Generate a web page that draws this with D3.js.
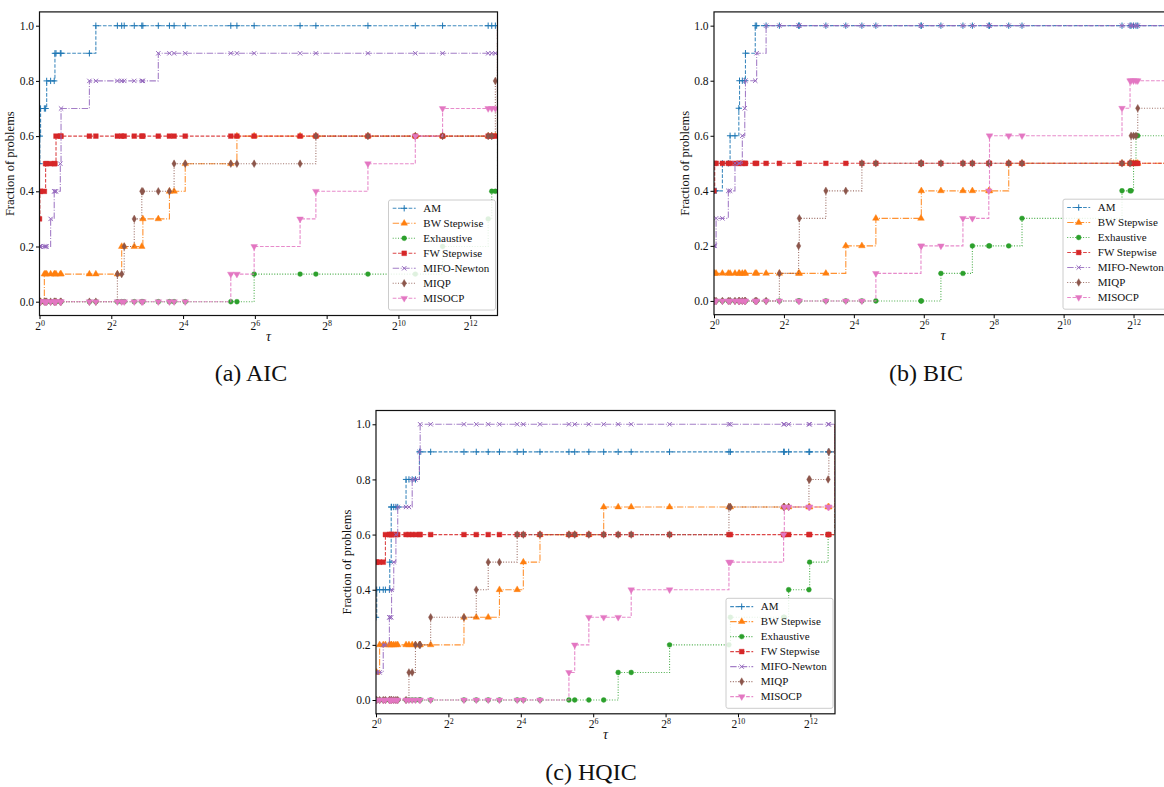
<!DOCTYPE html>
<html>
<head>
<meta charset="utf-8">
<script src="https://cdn.jsdelivr.net/npm/d3@7"></script>
<style>
  body { margin: 0; background: #fff; }
  text { font-family: "Liberation Serif", "DejaVu Serif", serif; fill: #111; }
</style>
</head>
<body>
<script>
const seriesNames = ["AM", "BW Stepwise", "Exhaustive", "FW Stepwise", "MIFO-Newton", "MIQP", "MISOCP"];
const seriesColors = ["#1f77b4", "#ff7f0e", "#2ca02c", "#d62728", "#9467bd", "#8c564b", "#e377c2"];
const yTicks = [0, 0.2, 0.4, 0.6, 0.8, 1.0];
const xTickExponents = [0, 2, 4, 6, 8, 10, 12];

// step points: [log2(tau), fraction of problems]
// (a) AIC
const aicAM = [[0, 0.5], [0.01, 0.6], [0.03, 0.7], [0.2, 0.8], [0.43, 0.9], [1.57, 1.0]];
const aicBW = [[0, 0.0], [0.135, 0.1], [2.29, 0.2], [2.88, 0.3], [3.62, 0.4], [4.06, 0.5], [5.5, 0.6], [12.76, 1.0]];
const aicEX = [[0, 0.0], [5.98, 0.1], [11.23, 0.2], [12.5, 0.3], [12.6, 0.4], [12.76, 1.0]];
const aicFW = [[0, 0.3], [0.01, 0.4], [0.17, 0.5], [0.46, 0.6], [12.76, 1.0]];
const aicMIFO = [[0, 0.2], [0.31, 0.3], [0.41, 0.4], [0.58, 0.5], [0.6, 0.7], [1.39, 0.8], [3.31, 0.9], [12.76, 1.0]];
const aicMIQP = [[0, 0.0], [2.17, 0.1], [2.36, 0.2], [2.64, 0.3], [2.85, 0.4], [3.75, 0.5], [7.7, 0.6], [12.7, 0.8], [12.76, 1.0]];
const aicMISOCP = [[0, 0.0], [5.33, 0.1], [5.98, 0.2], [7.26, 0.3], [7.7, 0.4], [9.15, 0.5], [10.47, 0.6], [11.23, 0.7], [12.76, 1.0]];

// (b) BIC
const bicAM = [[0, 0.4], [0.24, 0.5], [0.46, 0.6], [0.71, 0.7], [0.73, 0.8], [0.9, 0.9], [1.18, 1.0]];
const bicBW = [[0, 0.1], [3.77, 0.2], [4.63, 0.3], [5.93, 0.4], [8.43, 0.5], [13.1, 1.0]];
const bicEX = [[0, 0.0], [6.49, 0.1], [7.39, 0.2], [8.81, 0.3], [11.67, 0.4], [12.0, 0.5], [12.07, 0.6], [13.1, 1.0]];
const bicFW = [[0, 0.4], [0.02, 0.5], [13.1, 1.0]];
const bicMIFO = [[0, 0.2], [0.06, 0.3], [0.41, 0.4], [0.6, 0.5], [0.81, 0.6], [0.88, 0.7], [0.9, 0.8], [1.22, 0.9], [1.49, 1.0]];
const bicMIQP = [[0, 0.0], [1.87, 0.1], [2.42, 0.2], [2.44, 0.3], [3.2, 0.4], [4.23, 0.5], [11.93, 0.6], [12.12, 0.7], [13.1, 1.0]];
const bicMISOCP = [[0, 0.0], [4.63, 0.1], [5.92, 0.2], [7.12, 0.3], [7.86, 0.4], [7.88, 0.6], [11.67, 0.7], [11.9, 0.8], [13.1, 1.0]];

// (c) HQIC
const hqicAM = [[0, 0.3], [0.02, 0.4], [0.38, 0.5], [0.42, 0.7], [0.83, 0.8], [1.2, 0.9], [12.68, 1.0]];
const hqicBW = [[0, 0.1], [0.1, 0.2], [2.43, 0.3], [3.41, 0.4], [4.07, 0.5], [4.53, 0.6], [6.29, 0.7], [12.68, 1.0]];
const hqicEX = [[0, 0.0], [6.69, 0.1], [8.11, 0.2], [9.79, 0.3], [11.4, 0.4], [11.98, 0.5], [12.49, 0.6], [12.68, 1.0]];
const hqicFW = [[0, 0.5], [0.26, 0.6], [12.68, 1.0]];
const hqicMIFO = [[0, 0.1], [0.2, 0.2], [0.37, 0.3], [0.43, 0.4], [0.49, 0.5], [0.55, 0.6], [0.6, 0.7], [1.0, 0.8], [1.2, 0.9], [1.22, 1.0]];
const hqicMIQP = [[0, 0.0], [0.91, 0.1], [1.09, 0.2], [1.51, 0.3], [2.77, 0.4], [3.1, 0.5], [3.9, 0.6], [9.75, 0.7], [11.96, 0.8], [12.51, 0.9], [12.68, 1.0]];
const hqicMISOCP = [[0, 0.0], [5.33, 0.1], [5.49, 0.2], [5.88, 0.3], [7.05, 0.4], [9.75, 0.5], [11.26, 0.6], [11.28, 0.7], [12.68, 1.0]];

// line / marker style per series (matplotlib-like)
const dashes = ["3.7,1.6", "6.4,1.6,1,1.6", "1,1.65", "3.7,1.6", "6.4,1.6,1,1.6", "1,1.65", "3.7,1.6"];
const markers = [
  { type: d3.symbolPlus, size: 15, fill: false, rot: 0 },
  { type: d3.symbolTriangle, size: 19, fill: true, rot: 0 },
  { type: d3.symbolCircle, size: 19, fill: true, rot: 0 },
  { type: d3.symbolSquare, size: 23, fill: true, rot: 0 },
  { type: d3.symbolX, size: 14, fill: false, rot: 0 },
  { type: d3.symbolDiamond, size: 17, fill: true, rot: 0 },
  { type: d3.symbolTriangle, size: 19, fill: true, rot: 180 }
];

const panels = [
  { caption: "(a) AIC", steps: [aicAM, aicBW, aicEX, aicFW, aicMIFO, aicMIQP, aicMISOCP], tauMax: 12.76,
    left: 39.5, top: 11.9, width: 458, height: 303.6, capX: 251, capY: 381 },
  { caption: "(b) BIC", steps: [bicAM, bicBW, bicEX, bicFW, bicMIFO, bicMIQP, bicMISOCP], tauMax: 13.1,
    left: 714, top: 11.9, width: 458, height: 302.8, capX: 926, capY: 381 },
  { caption: "(c) HQIC", steps: [hqicAM, hqicBW, hqicEX, hqicFW, hqicMIFO, hqicMIQP, hqicMISOCP], tauMax: 12.68,
    left: 376, top: 410.5, width: 459, height: 303.3, capX: 591, capY: 780 }
];

const svg = d3.select("body").append("svg")
  .attr("width", 1164)
  .attr("height", 787);

function valueAt(steps, t) {
  let v = steps[0][1];
  for (const s of steps) if (s[0] <= t + 1e-9) v = s[1];
  return v;
}

function symbolPath(m) {
  return d3.symbol().type(m.type).size(m.size)();
}

panels.forEach((p, pi) => {
  const x = d3.scaleLog().base(2)
    .domain([1, Math.pow(2, p.tauMax)])
    .range([p.left, p.left + p.width]);
  const y = d3.scaleLinear()
    .domain([-0.05, 1.05])
    .range([p.top + p.height, p.top]);

  const g = svg.append("g");
  const clipId = "clip" + pi;
  g.append("clipPath").attr("id", clipId)
    .append("rect")
    .attr("x", p.left).attr("y", p.top)
    .attr("width", p.width).attr("height", p.height);

  const plot = g.append("g").attr("clip-path", "url(#" + clipId + ")");

  // shared tau grid where markers are drawn (all step locations in this panel)
  const grid = Array.from(new Set(p.steps.flat().map(d => d[0])))
    .filter(t => t < p.tauMax - 0.005)
    .sort((a, b) => a - b);

  const line = d3.line()
    .x(d => x(Math.pow(2, d[0])))
    .y(d => y(d[1]))
    .curve(d3.curveStepAfter);

  p.steps.forEach((steps, si) => {
    const pts = steps.concat([[p.tauMax, steps[steps.length - 1][1]]]);
    plot.append("path")
      .datum(pts)
      .attr("fill", "none")
      .attr("stroke", seriesColors[si])
      .attr("stroke-width", 1.1)
      .attr("stroke-opacity", 0.85)
      .attr("stroke-dasharray", dashes[si])
      .attr("d", line);

    const m = markers[si];
    plot.selectAll(null)
      .data(grid.map(t => [t, valueAt(steps, t)]))
      .enter()
      .append("path")
      .attr("d", symbolPath(m))
      .attr("transform", d => `translate(${x(Math.pow(2, d[0]))},${y(d[1])}) rotate(${m.rot})`)
      .attr("fill", m.fill ? seriesColors[si] : "none")
      .attr("stroke", seriesColors[si])
      .attr("stroke-width", m.fill ? 0.4 : 1);
  });

  // axes
  const xAxis = d3.axisBottom(x)
    .tickValues(xTickExponents.map(e => Math.pow(2, e)))
    .tickSize(3.5)
    .tickPadding(3);
  const gx = g.append("g")
    .attr("transform", `translate(0,${p.top + p.height})`)
    .call(xAxis);
  gx.select(".domain").remove();
  gx.selectAll(".tick text").each(function (d) {
    const t = d3.select(this).text(null)
      .attr("font-size", 11.5)
      .attr("font-family", "Liberation Serif, serif");
    t.append("tspan").text("2");
    t.append("tspan").attr("dy", "-0.5em").attr("font-size", 8)
      .text(Math.round(Math.log2(d)));
  });

  const yAxis = d3.axisLeft(y)
    .tickValues(yTicks)
    .tickFormat(d3.format(".1f"))
    .tickSize(3.5)
    .tickPadding(2);
  const gy = g.append("g")
    .attr("transform", `translate(${p.left},0)`)
    .call(yAxis);
  gy.select(".domain").remove();
  gy.selectAll(".tick text")
    .attr("font-size", 11.5)
    .attr("font-family", "Liberation Serif, serif");

  g.append("rect")
    .attr("x", p.left).attr("y", p.top)
    .attr("width", p.width).attr("height", p.height)
    .attr("fill", "none")
    .attr("stroke", "#111")
    .attr("stroke-width", 1.2);

  // axis labels
  g.append("text")
    .attr("transform", `translate(${p.left - 25.5},${p.top + p.height / 2}) rotate(-90)`)
    .attr("text-anchor", "middle")
    .attr("font-size", 12.5)
    .text("Fraction of problems");

  g.append("text")
    .attr("x", p.left + p.width / 2)
    .attr("y", p.top + p.height + 25)
    .attr("text-anchor", "middle")
    .attr("font-size", 14)
    .attr("font-style", "italic")
    .text("τ");

  // legend
  const lx = p.left + p.width - 109;
  const ly = p.top + p.height - 115.5;
  const leg = g.append("g");
  leg.append("rect")
    .attr("x", lx).attr("y", ly)
    .attr("width", 107).attr("height", 110)
    .attr("rx", 2)
    .attr("fill", "#fff").attr("fill-opacity", 0.85)
    .attr("stroke", "#ccc").attr("stroke-width", 1);

  seriesNames.forEach((name, si) => {
    const cy = ly + 8.3 + si * 15;
    leg.append("line")
      .attr("x1", lx + 4.2).attr("x2", lx + 27.2)
      .attr("y1", cy).attr("y2", cy)
      .attr("stroke", seriesColors[si])
      .attr("stroke-width", 1.1)
      .attr("stroke-opacity", 0.85)
      .attr("stroke-dasharray", dashes[si]);
    const m = markers[si];
    leg.append("path")
      .attr("d", symbolPath(m))
      .attr("transform", `translate(${lx + 15.7},${cy}) rotate(${m.rot})`)
      .attr("fill", m.fill ? seriesColors[si] : "none")
      .attr("stroke", seriesColors[si])
      .attr("stroke-width", m.fill ? 0.4 : 1);
    leg.append("text")
      .attr("x", lx + 34.8)
      .attr("y", cy)
      .attr("dy", "0.35em")
      .attr("font-size", 11)
      .text(name);
  });

  // caption
  svg.append("text")
    .attr("x", p.capX)
    .attr("y", p.capY)
    .attr("text-anchor", "middle")
    .attr("font-size", 24)
    .text(p.caption);
});
</script>
</body>
</html>
